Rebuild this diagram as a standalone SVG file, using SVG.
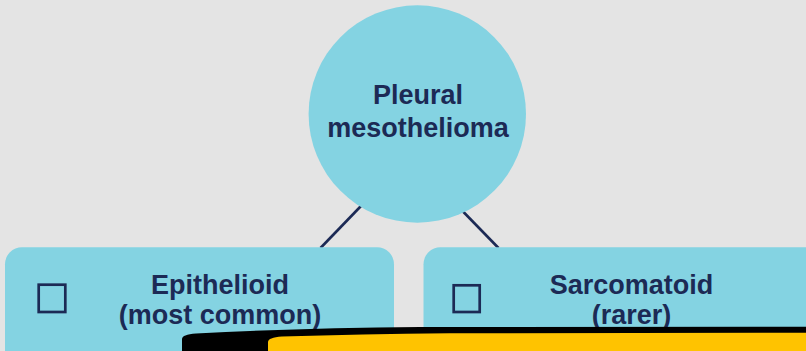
<svg xmlns="http://www.w3.org/2000/svg" width="806" height="351" viewBox="0 0 806 351">
<style>
.bg{fill:#e4e4e4}
.node{fill:#84d3e2}
.lbl{font-family:"Liberation Sans",Arial,sans-serif;font-weight:700;font-size:27px;fill:#1c2a55;text-anchor:middle}
.conn{stroke:#1c2a55;stroke-width:2.6;fill:none}
.chk{fill:none;stroke:#1c2a55;stroke-width:2.7}
</style>
<rect class="bg" x="0" y="0" width="806" height="351"/>
<g id="connectors">
<line class="conn" x1="361" y1="206" x2="320.5" y2="248"/>
<line class="conn" x1="463" y1="211.5" x2="498.5" y2="248"/>
</g>
<g id="node-pleural">
<circle class="node" cx="417.3" cy="114" r="108.7"/>
<text class="lbl" x="418" y="104.3">Pleural</text>
<text class="lbl" x="418" y="136.7">mesothelioma</text>
</g>
<g id="node-epithelioid">
<rect class="node" x="5" y="247.3" width="389" height="130" rx="17"/>
<rect class="chk" x="38.7" y="284.7" width="26.6" height="27.3"/>
<text class="lbl" x="220" y="294">Epithelioid</text>
<text class="lbl" x="220" y="324.3">(most common)</text>
</g>
<g id="node-sarcomatoid">
<rect class="node" x="423.5" y="247.3" width="400" height="130" rx="17"/>
<rect class="chk" x="453.7" y="285.3" width="26" height="26.7"/>
<text class="lbl" x="631.5" y="294">Sarcomatoid</text>
<text class="lbl" x="631.6" y="324.3">(rarer)</text>
</g>
<g id="overlay">
<path fill="#000" d="M182,351 V339 Q182,334.5 196,333.5 Q300,328 420,327 L806,326.7 V351 Z"/>
<path fill="#ffc300" d="M268,351 V342 Q268,337.5 282,336.5 Q360,334 450,333.2 L806,332.8 V351 Z"/>
</g>
</svg>
